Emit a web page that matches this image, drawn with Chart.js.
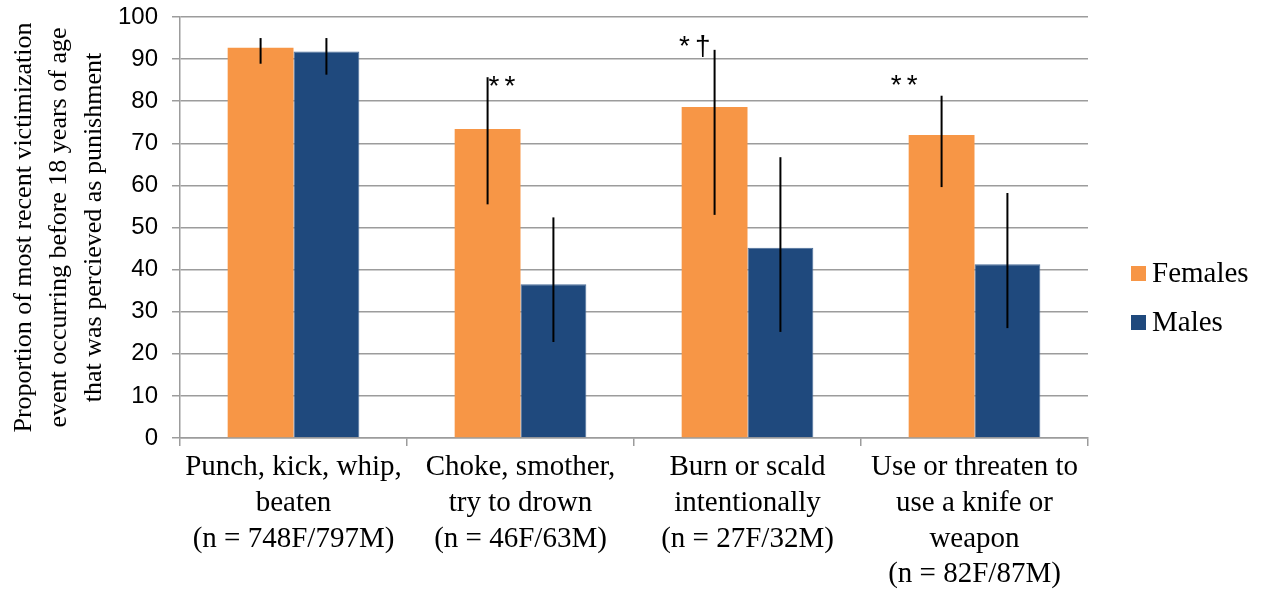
<!DOCTYPE html>
<html>
<head>
<meta charset="utf-8">
<script src="https://cdn.jsdelivr.net/npm/chart.js@4"></script>
<style>
  html, body { margin: 0; padding: 0; background: #fff; }
  #wrap { width: 1265px; height: 590px; }
</style>
</head>
<body>
<div id="wrap"><canvas id="punishmentChart"></canvas></div>
<script>
// Data Block
const categories = [
  ["Punch, kick, whip,", "beaten", "(n = 748F/797M)"],
  ["Choke, smother,", "try to drown", "(n = 46F/63M)"],
  ["Burn or scald", "intentionally", "(n = 27F/32M)"],
  ["Use or threaten to", "use a knife or", "weapon", "(n = 82F/87M)"]
];
const femaleValues = [92.7, 73.4, 78.6, 72.0];
const femaleLow = [88.9, 55.5, 53.0, 59.6];
const femaleHigh = [95.0, 85.7, 92.2, 81.3];
const maleValues = [91.8, 36.5, 45.2, 41.3];
const maleLow = [86.3, 22.8, 25.2, 26.1];
const maleHigh = [95.0, 52.4, 66.7, 58.2];
const significance = ["", "**", "*\u2020", "**"];
const seriesNames = ["Females", "Males"];

const orange = "#F79646";
const navy = "#1F497D";
const gridGray = "#9C9C9C";
const serif = "'Liberation Serif', 'Times New Roman', serif";
const sans = "'Liberation Sans', Arial, sans-serif";

// error bars, drawn from the low/high arrays through the y scale
const errorBars = {
  id: "errorBars",
  afterDatasetsDraw(chart) {
    const ctx = chart.ctx;
    const y = chart.scales.y;
    const ranges = [[femaleLow, femaleHigh], [maleLow, maleHigh]];
    ctx.save();
    ctx.strokeStyle = "#000";
    ctx.lineWidth = 2;
    ranges.forEach((r, i) => {
      chart.getDatasetMeta(i).data.forEach((bar, j) => {
        ctx.beginPath();
        ctx.moveTo(bar.x, y.getPixelForValue(r[0][j]));
        ctx.lineTo(bar.x, y.getPixelForValue(r[1][j]));
        ctx.stroke();
      });
    });
    ctx.restore();
  }
};

// significance marks near the female error bar tops
const marks = {
  id: "marks",
  afterDatasetsDraw(chart) {
    const ctx = chart.ctx;
    const y = chart.scales.y;
    const shift = [[0, 0, "left"], [1, 5, "left"], [1, -8, "right"], [-19, -14, "right"]];
    ctx.save();
    ctx.fillStyle = "#000";
    ctx.font = "28px " + sans;
    ctx.letterSpacing = "5px";
    ctx.textBaseline = "middle";
    chart.getDatasetMeta(0).data.forEach((bar, j) => {
      if (!significance[j]) return;
      ctx.textAlign = shift[j][2];
      ctx.fillText(significance[j], bar.x + shift[j][0], y.getPixelForValue(femaleHigh[j]) + shift[j][1] + 5);
    });
    ctx.restore();
  }
};

// legend on the right
const sideLegend = {
  id: "sideLegend",
  afterDraw(chart) {
    const ctx = chart.ctx;
    const left = chart.chartArea.right + 43;
    const colors = [orange, navy];
    ctx.save();
    ctx.font = "29px " + serif;
    ctx.textBaseline = "middle";
    ctx.textAlign = "left";
    seriesNames.forEach((name, i) => {
      const cy = 273 + i * 49;
      ctx.fillStyle = colors[i];
      ctx.fillRect(left, cy - 7, 15, 15);
      ctx.fillStyle = "#000";
      ctx.fillText(name, left + 21, cy + 1);
    });
    ctx.restore();
  }
};

const chartData = {
  labels: categories,
  datasets: [
    {
      label: seriesNames[0],
      data: femaleValues,
      backgroundColor: orange,
      categoryPercentage: 0.58,
      barPercentage: 1.0
    },
    {
      label: seriesNames[1],
      data: maleValues,
      backgroundColor: navy,
      borderColor: "#4A6C98",
      borderWidth: 1,
      categoryPercentage: 0.58,
      barPercentage: 1.0
    }
  ]
};

// Config Block
const config = {
  type: "bar",
  data: chartData,
  options: {
    responsive: true,
    maintainAspectRatio: false,
    animation: false,
    layout: { padding: { top: 17, right: 177, bottom: 0, left: 0 } },
    plugins: {
      legend: { display: false },
      tooltip: { enabled: false }
    },
    scales: {
      x: {
        grid: {
          offset: true,
          drawOnChartArea: false,
          drawTicks: true,
          tickLength: 8,
          color: gridGray,
          lineWidth: 1.5
        },
        border: { color: gridGray, width: 1.5 },
        ticks: {
          color: "#000",
          padding: 3,
          maxRotation: 0,
          autoSkip: false,
          font: { family: serif, size: 29, lineHeight: 1.24 }
        },
        afterFit(scale) { scale.height = 152; }
      },
      y: {
        min: 0,
        max: 100,
        ticks: {
          stepSize: 10,
          color: "#000",
          padding: 14,
          font: { family: sans, size: 24 }
        },
        grid: {
          color: gridGray,
          lineWidth: 1.5,
          tickLength: 8
        },
        border: { color: gridGray, width: 1.5 },
        title: {
          display: true,
          text: [
            "Proportion of most recent victimization",
            "event occurring before 18 years of age",
            "that was percieved as punishment"
          ],
          color: "#000",
          padding: { top: 6, bottom: 0 },
          font: { family: serif, size: 26, lineHeight: 1.36 }
        },
        afterFit(scale) {
          scale.width = 180;
          // the "100" label overhang should not push the plot down
          scale.paddingTop = 0;
          scale.paddingBottom = 0;
        }
      }
    }
  },
  plugins: [errorBars, marks, sideLegend]
};

// Render Block
const punishmentChart = new Chart(
  document.getElementById("punishmentChart"),
  config
);
</script>
</body>
</html>
